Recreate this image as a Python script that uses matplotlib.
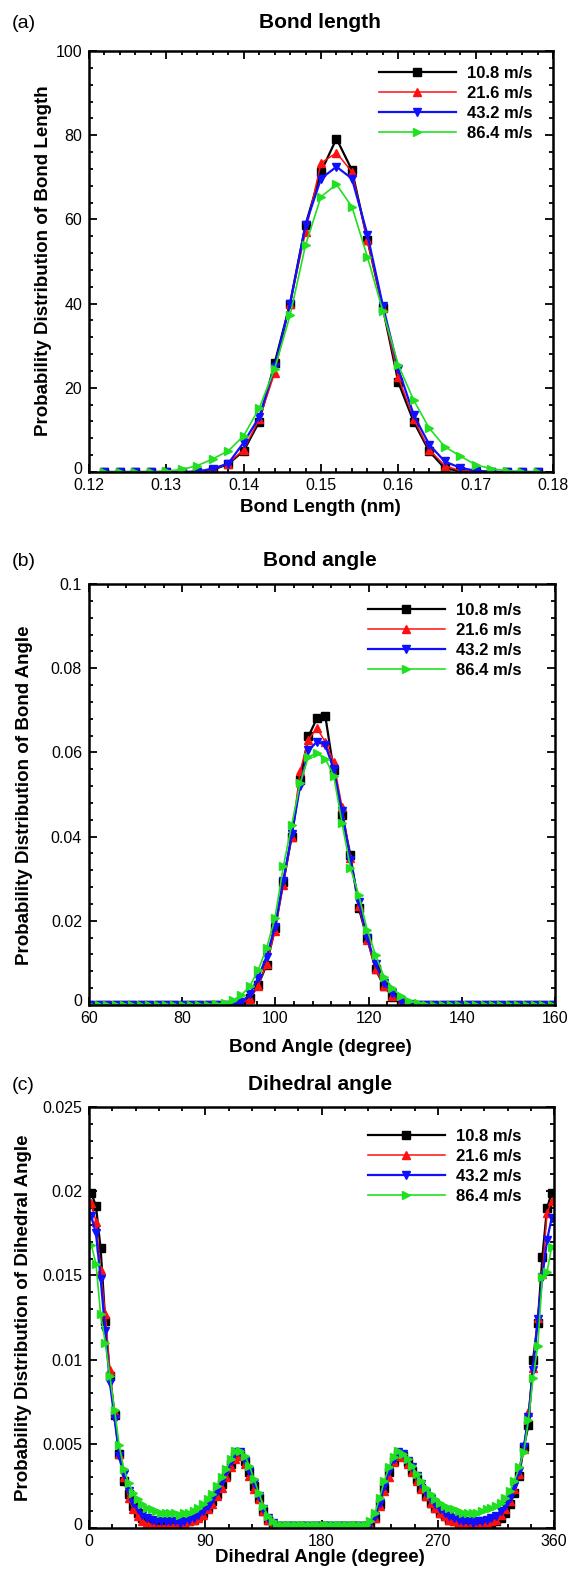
import numpy as np
import matplotlib
matplotlib.use('Agg')
import matplotlib.pyplot as plt
from matplotlib.ticker import MultipleLocator, FuncFormatter

plt.rcParams['font.family'] = ['Liberation Sans', 'DejaVu Sans']

labels = ['10.8 m/s', '21.6 m/s', '43.2 m/s', '86.4 m/s']

# (a) bond length, nm
bl_x = [0.122, 0.124, 0.126, 0.128, 0.130, 0.132, 0.134, 0.136, 0.138, 0.140,
        0.142, 0.144, 0.146, 0.148, 0.150, 0.152, 0.154, 0.156, 0.158, 0.160,
        0.162, 0.164, 0.166, 0.168, 0.170, 0.172, 0.174, 0.176, 0.178]
bl_108 = [0, 0, 0, 0, 0, 0, 0, 0.5, 1.9, 5.0, 11.9, 25.8, 40.0, 58.7, 71.3,
          79.2, 71.7, 55.1, 39.0, 21.3, 11.9, 4.9, 0.9, 0.2, 0, 0, 0, 0, 0]
bl_216 = [0, 0, 0, 0, 0, 0, 0.1, 0.6, 2.0, 5.3, 12.5, 23.5, 40.0, 57.0, 73.4,
          75.8, 71.3, 55.0, 39.0, 22.5, 12.5, 5.3, 1.5, 0.3, 0.1, 0, 0, 0, 0]
bl_432 = [0, 0, 0, 0, 0, 0, 0.1, 0.8, 2.0, 7.0, 13.0, 25.0, 40.0, 58.7, 69.7,
          72.5, 69.7, 56.4, 39.5, 24.5, 13.5, 6.5, 2.5, 1.0, 0.3, 0.1, 0, 0, 0]
bl_864 = [0, 0, 0, 0, 0.2, 0.6, 1.5, 3.1, 5.0, 8.6, 15.1, 24.5, 37.2, 53.9, 65.4,
          68.3, 63.0, 51.1, 38.2, 25.4, 17.0, 10.4, 6.0, 3.8, 1.7, 0.8, 0.3, 0.1, 0]

# (b) bond angle, degree (bin centres 60.3 ... 159.3)
ba_x = np.arange(60.3, 160.0, 1.8)
ba_108 = [0, 0, 0, 0, 0, 0, 0, 0, 0, 0, 0, 0, 0, 0, 0, 0, 0, 0.0001,
          0.0002, 0.0017, 0.0047, 0.0095, 0.0182, 0.0293, 0.0400, 0.0535, 0.0638,
          0.0681, 0.0687, 0.0558, 0.0451, 0.0356, 0.0230, 0.0158, 0.0085, 0.0045,
          0.0020, 0.0006, 0.0001, 0, 0,
          0, 0, 0, 0, 0, 0, 0, 0, 0, 0, 0, 0, 0, 0, 0]
ba_216 = [0, 0, 0, 0, 0, 0, 0, 0, 0, 0, 0, 0, 0, 0, 0, 0, 0, 0.0001,
          0.0003, 0.0015, 0.0045, 0.0098, 0.0175, 0.0285, 0.0400, 0.0555, 0.0630,
          0.0658, 0.0625, 0.0577, 0.0470, 0.0350, 0.0235, 0.0155, 0.0085, 0.0045,
          0.0022, 0.0007, 0.0002, 0, 0,
          0, 0, 0, 0, 0, 0, 0, 0, 0, 0, 0, 0, 0, 0, 0]
ba_432 = [0, 0, 0, 0, 0, 0, 0, 0, 0, 0, 0, 0, 0, 0, 0, 0, 0, 0.0001,
          0.0006, 0.0025, 0.0065, 0.0115, 0.0185, 0.0295, 0.0405, 0.0520, 0.0605,
          0.0625, 0.0618, 0.0560, 0.0460, 0.0345, 0.0245, 0.0160, 0.0098, 0.0053,
          0.0028, 0.0010, 0.0002, 0.0001, 0,
          0, 0, 0, 0, 0, 0, 0, 0, 0, 0, 0, 0, 0, 0, 0]
ba_864 = [0, 0, 0, 0, 0, 0, 0, 0, 0, 0, 0, 0, 0, 0.0001, 0.0001, 0.0002, 0.0005, 0.0011,
          0.0024, 0.0044, 0.0083, 0.0135, 0.0206, 0.0329, 0.0428, 0.0527, 0.0590,
          0.0598, 0.0585, 0.0545, 0.0432, 0.0325, 0.0261, 0.0178, 0.0119, 0.0067,
          0.0041, 0.0022, 0.0010, 0.0004, 0.0001,
          0, 0, 0, 0, 0, 0, 0, 0, 0, 0, 0, 0, 0, 0, 0]

# (c) dihedral angle, degree (bin centres 1.8 ... 358.2)
da_x = np.arange(1.8, 360.0, 3.6)
da_108 = [0.0199, 0.0191, 0.0166, 0.0123, 0.0090, 0.0067, 0.0044, 0.0028, 0.0020, 0.0013,
          0.0009, 0.0006, 0.0004, 0.0003, 0.0002, 0.0002, 0.0002, 0.0002, 0.0002, 0.0002,
          0.0003, 0.0004, 0.0005, 0.0007, 0.0009, 0.0012, 0.0016, 0.0020, 0.0026, 0.0031,
          0.0038, 0.0043, 0.0044, 0.0040, 0.0033, 0.0025, 0.0018, 0.0010, 0.0005, 0.0002,
          0.0001, 0.0001, 0.0001, 0.0001, 0.0001, 0.0001, 0.0001, 0.0001, 0.0001, 0.0001,
          0.0001, 0.0001, 0.0001, 0.0001, 0.0001, 0.0001, 0.0001, 0.0001, 0.0001, 0.0001,
          0.0002, 0.0006, 0.0014, 0.0024, 0.0033, 0.0040, 0.0044, 0.0043, 0.0039, 0.0034,
          0.0029, 0.0024, 0.0019, 0.0015, 0.0012, 0.0009, 0.0007, 0.0005, 0.0004, 0.0003,
          0.0002, 0.0002, 0.0001, 0.0001, 0.0002, 0.0002, 0.0003, 0.0004, 0.0006, 0.0009,
          0.0014, 0.0021, 0.0031, 0.0048, 0.0061, 0.0100, 0.0122, 0.0161, 0.0190, 0.0199]
da_216 = [0.0193, 0.0182, 0.0153, 0.0127, 0.0094, 0.0068, 0.0044, 0.0030, 0.0018, 0.0011,
          0.0007, 0.0004, 0.0003, 0.0002, 0.0001, 0.0001, 0.0001, 0.0002, 0.0002, 0.0002,
          0.0003, 0.0004, 0.0005, 0.0006, 0.0008, 0.0011, 0.0014, 0.0019, 0.0024, 0.0030,
          0.0036, 0.0041, 0.0043, 0.0038, 0.0031, 0.0023, 0.0017, 0.0010, 0.0005, 0.0002,
          0.0001, 0.0001, 0.0001, 0.0001, 0.0001, 0.0001, 0.0001, 0.0001, 0.0001, 0.0001,
          0.0001, 0.0001, 0.0001, 0.0001, 0.0001, 0.0001, 0.0001, 0.0001, 0.0001, 0.0001,
          0.0002, 0.0006, 0.0013, 0.0022, 0.0030, 0.0039, 0.0043, 0.0042, 0.0038, 0.0033,
          0.0028, 0.0023, 0.0019, 0.0015, 0.0012, 0.0009, 0.0007, 0.0005, 0.0004, 0.0003,
          0.0002, 0.0002, 0.0002, 0.0002, 0.0002, 0.0003, 0.0004, 0.0005, 0.0008, 0.0011,
          0.0016, 0.0023, 0.0032, 0.0047, 0.0069, 0.0095, 0.0125, 0.0151, 0.0187, 0.0194]
da_432 = [0.0185, 0.0175, 0.0148, 0.0117, 0.0086, 0.0065, 0.0043, 0.0032, 0.0022, 0.0015,
          0.0011, 0.0008, 0.0006, 0.0005, 0.0004, 0.0004, 0.0004, 0.0004, 0.0004, 0.0003,
          0.0004, 0.0005, 0.0006, 0.0008, 0.0010, 0.0013, 0.0017, 0.0022, 0.0028, 0.0034,
          0.0040, 0.0045, 0.0045, 0.0040, 0.0034, 0.0027, 0.0019, 0.0011, 0.0006, 0.0003,
          0.0001, 0.0001, 0.0001, 0.0001, 0.0001, 0.0001, 0.0001, 0.0001, 0.0001, 0.0001,
          0.0001, 0.0001, 0.0001, 0.0001, 0.0001, 0.0001, 0.0001, 0.0001, 0.0001, 0.0001,
          0.0003, 0.0007, 0.0015, 0.0025, 0.0034, 0.0041, 0.0045, 0.0044, 0.0040, 0.0036,
          0.0031, 0.0026, 0.0021, 0.0017, 0.0014, 0.0011, 0.0009, 0.0007, 0.0006, 0.0005,
          0.0004, 0.0004, 0.0003, 0.0004, 0.0004, 0.0005, 0.0006, 0.0007, 0.0010, 0.0013,
          0.0018, 0.0025, 0.0034, 0.0048, 0.0066, 0.0094, 0.0124, 0.0149, 0.0171, 0.0184]
da_864 = [0.0168, 0.0157, 0.0127, 0.0110, 0.0090, 0.0070, 0.0049, 0.0035, 0.0027, 0.0021,
          0.0017, 0.0014, 0.0012, 0.0011, 0.0010, 0.0009, 0.0009, 0.0009, 0.0009, 0.0008,
          0.0009, 0.0009, 0.0010, 0.0012, 0.0014, 0.0017, 0.0020, 0.0025, 0.0030, 0.0035,
          0.0041, 0.0046, 0.0046, 0.0043, 0.0037, 0.0029, 0.0021, 0.0013, 0.0007, 0.0004,
          0.0002, 0.0002, 0.0002, 0.0002, 0.0002, 0.0002, 0.0002, 0.0002, 0.0002, 0.0002,
          0.0002, 0.0002, 0.0002, 0.0002, 0.0002, 0.0002, 0.0002, 0.0002, 0.0002, 0.0002,
          0.0004, 0.0009, 0.0018, 0.0028, 0.0036, 0.0042, 0.0046, 0.0044, 0.0041, 0.0037,
          0.0032, 0.0028, 0.0024, 0.0020, 0.0017, 0.0015, 0.0013, 0.0012, 0.0011, 0.0010,
          0.0009, 0.0009, 0.0009, 0.0009, 0.0010, 0.0011, 0.0012, 0.0013, 0.0015, 0.0018,
          0.0022, 0.0028, 0.0036, 0.0045, 0.0064, 0.0089, 0.0108, 0.0149, 0.0152, 0.0167]

colors = ['#000000', '#ff1010', '#1010ff', '#20e020']
markers = ['s', '^', 'v', '>']
msizes = [5.5, 6, 6, 6]
lws = [1.6, 1.1, 1.6, 1.2]

W, H = 570, 1576
fig = plt.figure(figsize=(W / 100, H / 100), dpi=100)


def box(left, top, right, bottom):
    return [left / W, 1 - bottom / H, (right - left) / W, (bottom - top) / H]


def panel(rect, x, ys, xlim, ylim, xmaj, xmin, ymaj, ymin, leg_x, leg_y):
    ax = fig.add_axes(rect)
    for y, c, m, ms, lw, lab in zip(ys, colors, markers, msizes, lws, labels):
        ax.plot(x, y, color=c, marker=m, lw=lw, ms=ms, mec=c, label=lab)
    ax.set_xlim(*xlim)
    ax.set_ylim(*ylim)
    ax.xaxis.set_major_locator(MultipleLocator(xmaj))
    ax.xaxis.set_minor_locator(MultipleLocator(xmin))
    ax.yaxis.set_major_locator(MultipleLocator(ymaj))
    ax.yaxis.set_minor_locator(MultipleLocator(ymin))
    ax.xaxis.set_major_formatter(FuncFormatter(lambda v, p: '%g' % round(v, 6)))
    # the corner "0" of the y axis is written separately, a bit higher
    ax.yaxis.set_major_formatter(
        FuncFormatter(lambda v, p: '' if abs(v) < 1e-12 else '%g' % round(v, 6)))
    ax.tick_params(which='both', direction='in', top=True, right=True,
                   labelsize=11.5, width=1.3)
    ax.tick_params(which='major', length=6)
    ax.tick_params(which='minor', length=3)
    ax.tick_params(axis='x', pad=4)
    ax.tick_params(axis='y', pad=5)
    for s in ax.spines.values():
        s.set_linewidth(1.8)
    ax.text(-7 / (rect[2] * W), 3 / (rect[3] * H), '0', transform=ax.transAxes,
            ha='right', va='center', fontsize=11.5)
    ax.legend(loc='upper left', bbox_to_anchor=(leg_x / W, 1 - leg_y / H),
              bbox_transform=fig.transFigure, frameon=False, borderpad=0,
              borderaxespad=0, handlelength=4.6, handletextpad=0.7,
              labelspacing=0.3, prop={'weight': 'bold', 'size': 12})
    return ax


panel(box(89, 51, 553, 472), bl_x, [bl_108, bl_216, bl_432, bl_864],
      (0.12, 0.18), (0, 100), 0.01, 0.002, 20, 4, 379, 66)
panel(box(89, 584, 555, 1005), ba_x, [ba_108, ba_216, ba_432, ba_864],
      (60, 160), (0, 0.1), 20, 4, 0.02, 0.004, 368, 603)
panel(box(89, 1107, 554, 1528), da_x, [da_108, da_216, da_432, da_864],
      (0, 360), (0, 0.025), 90, 18, 0.005, 0.001, 368, 1129)

# panel letters, titles, axis labels
for ty, letter, title in [(23, '(a)', 'Bond length'), (561, '(b)', 'Bond angle'),
                          (1085, '(c)', 'Dihedral angle')]:
    fig.text(12 / W, 1 - ty / H, letter, fontsize=14, va='center', ha='left')
    fig.text(320 / W, 1 - ty / H, title, fontsize=15, weight='bold',
             va='center', ha='center')

for ly, text in [(508, 'Bond Length (nm)'), (1048, 'Bond Angle (degree)'),
                 (1558, 'Dihedral Angle (degree)')]:
    fig.text(320 / W, 1 - ly / H, text, fontsize=13.5, weight='bold',
             va='center', ha='center')

for lx, ly, text in [(44, 261, 'Probability Distribution of Bond Length'),
                     (25, 795, 'Probability Distribution of Bond Angle'),
                     (24, 1318, 'Probability Distribution of Dihedral Angle')]:
    fig.text(lx / W, 1 - ly / H, text, fontsize=13.5, weight='bold',
             rotation=90, va='center', ha='center')

fig.savefig('out.png', dpi=100)
